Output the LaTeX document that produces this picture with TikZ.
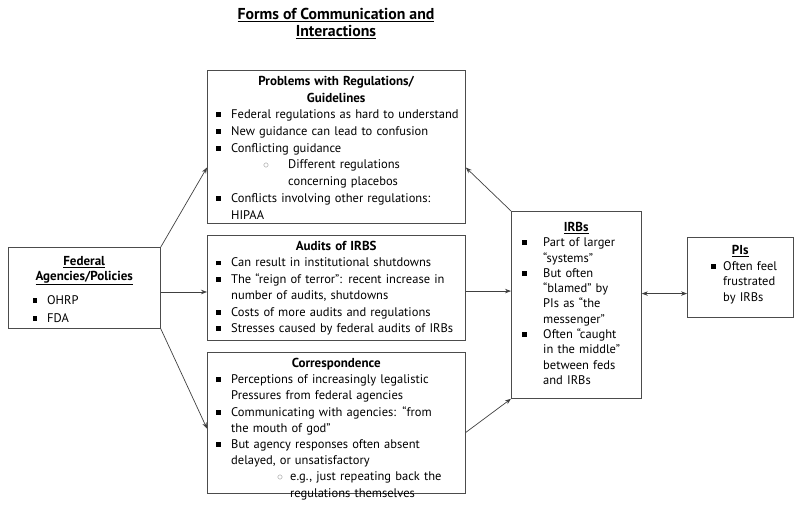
\documentclass[tikz,border=0pt]{standalone}
\usepackage{fontspec}
\setmainfont{PT Sans}
\usetikzlibrary{arrows.meta,calc}
\newlength\bpos \newlength\bind
\newcommand\sq{\rule[0.25ex]{4.8pt}{4.8pt}}
\newcommand\hd[1]{\centerline{\fontsize{13}{16}\selectfont\bfseries #1}}
\newcommand\bitem[1]{\par\hangindent=\bind\hangafter=1\noindent\makebox[\bind][l]{\hspace{\bpos}\sq}#1\par}
\newcommand\sitem[3]{\par\hangindent=#2\hangafter=1\noindent\makebox[#2][l]{\hspace{#1}\textcolor{black!45}{\large$\circ$}}#3\par}
\begin{document}
\begin{tikzpicture}[x=1pt,y=-1pt,
  box/.style={draw=black!70, line width=0.8pt, anchor=north west, inner sep=0pt},
  txt/.style={anchor=north west, inner sep=0pt, align=left, font={\fontsize{12.5}{16.4}\selectfont}},
  arr/.style={draw=black!75, line width=0.7pt, -{Stealth[length=6pt,width=4.5pt]}},
  darr/.style={draw=black!75, line width=0.7pt, {Stealth[length=6pt,width=4.5pt]}-{Stealth[length=6pt,width=4.5pt]}}]
\useasboundingbox (0,0) rectangle (800,508);

% title
\node[anchor=north, inner sep=0pt, align=center, font={\fontsize{15.8}{17.5}\selectfont\bfseries}] (title) at (336,8)
  {\underline{Forms of Communication and}\\ \underline{Interactions}};

% boxes
\node[box, minimum width=152pt, minimum height=81pt] (fed) at (8,247) {};
\node[box, minimum width=258pt, minimum height=153pt] (prob) at (207,70) {};
\node[box, minimum width=258pt, minimum height=105pt] (aud) at (207,235) {};
\node[box, minimum width=258pt, minimum height=141pt] (cor) at (207,352) {};
\node[box, minimum width=130pt, minimum height=187pt] (irb) at (511,211) {};
\node[box, minimum width=106pt, minimum height=80pt] (pis) at (687,237) {};

% federal text
\node[txt, text width=152pt, font={\fontsize{12.5}{15}\selectfont}] (fedh) at (8,256) {%
  \hd{\underline{Federal}}
  \hd{\underline{Agencies/Policies}}};
\node[txt, text width=152pt, font={\fontsize{12.5}{17.5}\selectfont}] (fedl) at (8,287) {%
  \setlength\bpos{24.5pt}\setlength\bind{39pt}%
  \bitem{OHRP}
  \bitem{FDA}};

% problems text
\node[txt, text width=258pt, font={\fontsize{12.5}{16.7}\selectfont}] (probt) at (207,76) {%
  \setlength\bpos{8.5pt}\setlength\bind{24pt}%
  \hd{Problems with Regulations/}
  \hd{Guidelines}
  \bitem{Federal regulations as hard to understand}
  \bitem{New guidance can lead to confusion}
  \bitem{Conflicting guidance}
  \sitem{56pt}{81pt}{Different regulations\newline concerning placebos}
  \bitem{Conflicts involving other regulations:\newline HIPAA}};

% audits text
\node[txt, text width=258pt] (audt) at (207,241) {%
  \setlength\bpos{8.5pt}\setlength\bind{24pt}%
  \hd{Audits of IRBS}
  \bitem{Can result in institutional shutdowns}
  \bitem{The “reign of terror”: recent increase in\newline number of audits, shutdowns}
  \bitem{Costs of more audits and regulations}
  \bitem{Stresses caused by federal audits of IRBs}};

% correspondence text
\node[txt, text width=258pt, font={\fontsize{12.5}{16.2}\selectfont}] (cort) at (207,358) {%
  \setlength\bpos{8.5pt}\setlength\bind{24pt}%
  \hd{Correspondence}
  \bitem{Perceptions of increasingly legalistic\newline Pressures from federal agencies}
  \bitem{Communicating with agencies: “from\newline the mouth of god”}
  \bitem{But agency responses often absent\newline delayed, or unsatisfactory}
  \sitem{70pt}{83pt}{e.g., just repeating back the\newline regulations themselves}};

% IRBs text
\node[txt, text width=130pt, font={\fontsize{12.5}{15.3}\selectfont}] (irbt) at (511,222) {%
  \setlength\bpos{10.5pt}\setlength\bind{32pt}%
  \hd{\underline{IRBs}}
  \bitem{Part of larger\newline “systems”}
  \bitem{But often\newline “blamed” by\newline PIs as “the\newline messenger”}
  \bitem{Often “caught\newline in the middle”\newline between feds\newline and IRBs}};

% PIs text
\node[txt, text width=106pt, font={\fontsize{12.5}{15.7}\selectfont}] (pist) at (687,245) {%
  \setlength\bpos{23.5pt}\setlength\bind{36pt}%
  \hd{\underline{PIs}}
  \bitem{Often feel\newline frustrated\newline by IRBs}};

% connectors
\draw[arr] (fed.north east) -- ($(prob.north west)!0.634!(prob.south west)$);
\draw[arr] ($(fed.north east)!0.55!(fed.south east)$) coordinate (f1) -- (f1 -| aud.west);
\draw[arr] (fed.south east) -- ($(cor.north west)!0.54!(cor.south west)$);
\draw[arr] ($(aud.north east)!0.53!(aud.south east)$) coordinate (a1) -- (a1 -| irb.west);
\draw[arr] ($(cor.north east)!0.567!(cor.south east)$) -- (irb.south west);
\draw[arr] (irb.north west) -- ($(prob.north east)!0.634!(prob.south east)$);
\draw[darr] ($(pis.north west)!0.7!(pis.south west)$) coordinate (p1) -- (p1 -| irb.east);
\end{tikzpicture}
\end{document}
